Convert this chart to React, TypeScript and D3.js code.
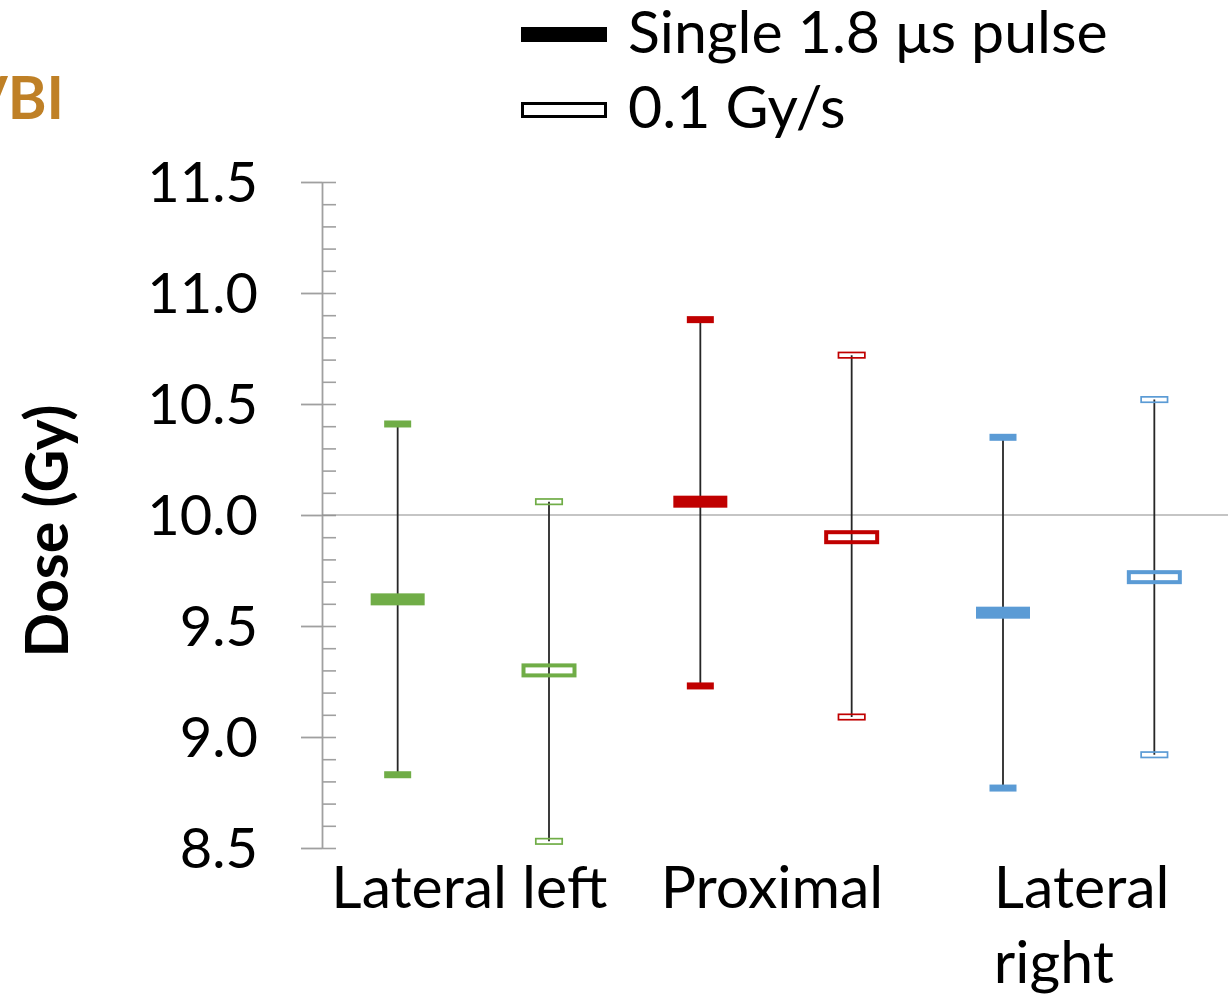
import * as d3 from 'd3';
import React, { useEffect, useRef } from 'react';

// values
const categories = ['Lateral left', 'Proximal', 'Lateral right'];
const seriesNames = ['Single 1.8 μs pulse', '0.1 Gy/s'];
const pulseMean = [9.62, 10.06, 9.56];
const pulseHigh = [10.41, 10.88, 10.35];
const pulseLow = [8.83, 9.23, 8.77];
const rateMean = [9.3, 9.9, 9.72];
const rateHigh = [10.06, 10.72, 10.52];
const rateLow = [8.53, 9.09, 8.92];
const yTicks = [8.5, 9.0, 9.5, 10.0, 10.5, 11.0, 11.5];
const groupColors = ['#70AD47', '#C00000', '#5B9BD5'];

const FONT = 'Lato, "Open Sans", sans-serif';
const FS = 59;      // legend, categories, title
const FS_TICK = 56; // y tick labels

const App = () => {
    const ref = useRef(null);
    const W = 1232, H = 996;
    const margin = { top: 182, right: 2, bottom: 148, left: 322 };

    useEffect(() => {
        const svg = d3.select(ref.current);
        svg.selectAll('*').remove();

        const y = d3.scaleLinear().domain([8.5, 11.5]).range([H - margin.bottom, margin.top]);
        const x = d3.scaleBand().domain(categories).range([margin.left, W - margin.right]);
        const inner = d3.scaleBand().domain(seriesNames).range([0, x.bandwidth()]);

        // minor ticks (right side)
        svg.append('g')
            .attr('transform', 'translate(' + margin.left + ',0)')
            .call(d3.axisRight(y).tickValues(d3.range(85, 116).map(v => v / 10)).tickSize(14).tickFormat(() => ''))
            .call(g => g.select('.domain').remove())
            .call(g => g.selectAll('line').attr('stroke', '#a0a0a0').attr('stroke-width', 1.6));

        // major ticks + labels
        svg.append('g')
            .attr('transform', 'translate(' + margin.left + ',0)')
            .call(d3.axisLeft(y).tickValues(yTicks).tickSize(21).tickPadding(43).tickFormat(d3.format('.1f')).tickSizeOuter(0))
            .call(g => g.select('.domain').attr('stroke', '#a0a0a0').attr('stroke-width', 1.8))
            .call(g => g.selectAll('line').attr('stroke', '#a0a0a0').attr('stroke-width', 1.8))
            .call(g => g.selectAll('text').attr('font-family', FONT).attr('font-size', FS_TICK).attr('fill', '#000').attr('dy', '0.34em'));

        // reference line at 10 Gy
        svg.append('line')
            .attr('x1', margin.left).attr('x2', W - 4)
            .attr('y1', y(10)).attr('y2', y(10))
            .attr('stroke', '#8c8c8c').attr('stroke-width', 1.2);

        const rows = [];
        categories.forEach((c, i) => {
            rows.push({ cat: c, s: seriesNames[0], mean: pulseMean[i], hi: pulseHigh[i], lo: pulseLow[i], color: groupColors[i], filled: true });
            rows.push({ cat: c, s: seriesNames[1], mean: rateMean[i], hi: rateHigh[i], lo: rateLow[i], color: groupColors[i], filled: false });
        });
        const cx = d => x(d.cat) + inner(d.s) + inner.bandwidth() / 2;

        const g = svg.append('g');
        // whiskers
        g.selectAll('.whisk').data(rows).enter().append('line')
            .attr('x1', cx).attr('x2', cx)
            .attr('y1', d => y(d.hi)).attr('y2', d => y(d.lo))
            .attr('stroke', '#262626').attr('stroke-width', 1.8);

        // caps
        const caps = rows.flatMap(d => [{ ...d, v: d.hi }, { ...d, v: d.lo }]);
        g.selectAll('.cap').data(caps).enter().append('rect')
            .attr('x', d => cx(d) - (d.filled ? 13.5 : 13.2))
            .attr('y', d => y(d.v) - (d.filled ? 3.5 : 2.7))
            .attr('width', d => d.filled ? 27 : 26.4)
            .attr('height', d => d.filled ? 7 : 5.4)
            .attr('fill', d => d.filled ? d.color : 'none')
            .attr('stroke', d => d.filled ? 'none' : d.color)
            .attr('stroke-width', 1.7);

        // mean markers
        g.selectAll('.mean').data(rows).enter().append('rect')
            .attr('x', d => cx(d) - (d.filled ? 27 : 25.5))
            .attr('y', d => y(d.mean) - (d.filled ? 6 : 5))
            .attr('width', d => d.filled ? 54 : 51)
            .attr('height', d => d.filled ? 12 : 10)
            .attr('fill', d => d.filled ? d.color : 'none')
            .attr('stroke', d => d.filled ? 'none' : d.color)
            .attr('stroke-width', 4);

        // category labels
        categories.forEach(c => {
            const words = c === 'Lateral right' ? ['Lateral', 'right'] : [c];
            const t = svg.append('text')
                .attr('font-family', FONT).attr('font-size', FS).attr('fill', '#000');
            words.forEach((w, k) => t.append('tspan').attr('dy', k === 0 ? 0 : 75).text(w));
            const spans = t.selectAll('tspan').nodes();
            const maxW = d3.max(spans, n => n.getComputedTextLength());
            const cxCat = x(c) + x.bandwidth() / 2;
            t.attr('y', 908);
            t.selectAll('tspan').attr('x', words.length > 1 ? cxCat - maxW / 2 + 3 : cxCat - 4)
                .attr('text-anchor', words.length > 1 ? 'start' : 'middle');
        });

        // y title
        svg.append('text')
            .attr('transform', 'translate(68,531) rotate(-90)')
            .attr('text-anchor', 'middle')
            .attr('font-family', FONT).attr('font-size', FS).attr('font-weight', 'bold')
            .text('Dose (Gy)');

        // corner title, clipped at the edge as in the source figure
        svg.append('text')
            .attr('x', 64).attr('y', 119)
            .attr('text-anchor', 'end')
            .attr('font-family', FONT).attr('font-size', FS).attr('font-weight', 'bold')
            .attr('fill', '#BF8026')
            .text('VBI');

        // legend
        const leg = svg.append('g');
        seriesNames.forEach((s, i) => {
            const ly = 35 + i * 75;
            leg.append('rect')
                .attr('x', i === 0 ? 521 : 522.5).attr('y', i === 0 ? ly - 8 : ly - 6.5)
                .attr('width', i === 0 ? 86 : 83).attr('height', i === 0 ? 15 : 13)
                .attr('fill', i === 0 ? '#000' : 'none')
                .attr('stroke', i === 0 ? 'none' : '#000').attr('stroke-width', 3);
            leg.append('text')
                .attr('x', 628).attr('y', ly + 18)
                .attr('font-family', FONT).attr('font-size', FS)
                .text(s);
        });
    }, []);

    return (
        <svg ref={ref} width={W} height={H}
            style={{ position: 'absolute', left: 0, top: 0, background: '#fff' }}>
        </svg>
    );
};

export default App;
